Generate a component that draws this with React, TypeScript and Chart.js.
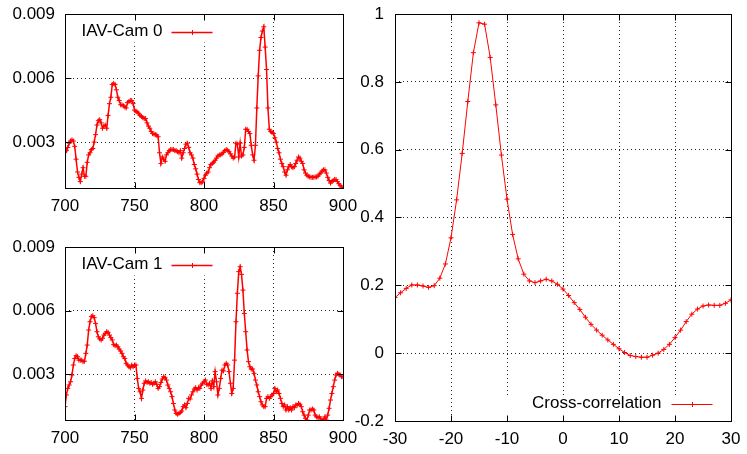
import React, { useEffect, useRef } from "react";
import { Chart, registerables } from "chart.js";

Chart.register(...registerables);

const FONT_FAMILY = "'Liberation Sans', Arial, sans-serif";
Chart.defaults.font.family = FONT_FAMILY;
Chart.defaults.font.size = 17;
Chart.defaults.color = "#000";

// ---------------- data ----------------
const CAM_START = 700; // first sample index of the IAV-Cam series (step 1)

const CAM0 = [
  0.00255, 0.0026, 0.00275, 0.00295, 0.00305, 0.0031, 0.00305, 0.0028, 0.0022, 0.0016,
  0.00135, 0.00115, 0.0015, 0.0018, 0.0014, 0.0014, 0.00205, 0.0024, 0.0025, 0.00265,
  0.0027, 0.003, 0.00335, 0.0038, 0.004, 0.00405, 0.0039, 0.00365, 0.00375, 0.0038,
  0.00365, 0.00425, 0.0048, 0.0051, 0.0057, 0.00575, 0.0057, 0.00545, 0.0051, 0.00495,
  0.00475, 0.00475, 0.0047, 0.00465, 0.0046, 0.00485, 0.0049, 0.00495, 0.00495, 0.0048,
  0.0045, 0.00445, 0.0044, 0.00435, 0.00425, 0.0042, 0.00415, 0.0041, 0.0041, 0.0039,
  0.00375, 0.00365, 0.0035, 0.0034, 0.00338, 0.00335, 0.00333, 0.00325, 0.0025, 0.002,
  0.0023, 0.0022, 0.0021, 0.0024, 0.0025, 0.0026, 0.00265, 0.00265, 0.00265, 0.0026,
  0.0026, 0.00255, 0.0025, 0.0026, 0.00225, 0.0025, 0.0027, 0.0029, 0.00295, 0.00275,
  0.0025, 0.0024, 0.00225, 0.00195, 0.00175, 0.0015, 0.00125, 0.0011, 0.0011, 0.00114,
  0.0013, 0.00145, 0.00155, 0.0016, 0.0018, 0.00195, 0.002, 0.00206, 0.00215, 0.00225,
  0.00235, 0.0024, 0.0024, 0.00245, 0.00252, 0.0026, 0.00265, 0.00262, 0.00255, 0.00245,
  0.00235, 0.00225, 0.0023, 0.00295, 0.0029, 0.0023, 0.00295, 0.00235, 0.0024, 0.00275,
  0.0036, 0.0036, 0.0035, 0.0034, 0.00285, 0.0024, 0.00215, 0.00285, 0.0046, 0.0061,
  0.0073, 0.0079, 0.0082, 0.0084, 0.00745, 0.0064, 0.0046, 0.0036, 0.0035, 0.00345,
  0.0034, 0.0032, 0.003, 0.0027, 0.0025, 0.0022, 0.002, 0.00185, 0.0016, 0.00145,
  0.0017, 0.00185, 0.00195, 0.00185, 0.0018, 0.00185, 0.002, 0.00215, 0.0023, 0.00225,
  0.0021, 0.002, 0.0017, 0.00155, 0.00145, 0.0014, 0.00137, 0.00135, 0.00135, 0.00135,
  0.00137, 0.00137, 0.0014, 0.0015, 0.00155, 0.00165, 0.0017, 0.0017, 0.00155, 0.00135,
  0.0012, 0.00108, 0.00115, 0.0012, 0.00125, 0.00125, 0.00115, 0.00105, 0.00096, 0.0009,
  0.0008,
];

const CAM1 = [
  0.00148, 0.00203, 0.00234, 0.0025, 0.00265, 0.00297, 0.00344, 0.00375, 0.00388, 0.00383,
  0.00367, 0.00367, 0.00367, 0.0036, 0.00362, 0.00399, 0.00438, 0.00509, 0.00548, 0.00572,
  0.00576, 0.00567, 0.0054, 0.00501, 0.00477, 0.00467, 0.00462, 0.0047, 0.00485, 0.00493,
  0.00501, 0.00498, 0.00485, 0.00473, 0.00462, 0.00441, 0.00435, 0.00438, 0.0043, 0.00419,
  0.0041, 0.00399, 0.00383, 0.00375, 0.00352, 0.00344, 0.00336, 0.00331, 0.00344, 0.00336,
  0.00344, 0.00344, 0.00281, 0.00234, 0.00218, 0.00187, 0.00226, 0.00258, 0.00269, 0.00262,
  0.00265, 0.00258, 0.00262, 0.00253, 0.00258, 0.00265, 0.00253, 0.00234, 0.00242, 0.00262,
  0.00278, 0.00289, 0.00284, 0.00273, 0.0025, 0.00234, 0.00218, 0.00195, 0.00163, 0.00132,
  0.00116, 0.00112, 0.00116, 0.00121, 0.00127, 0.00148, 0.00156, 0.00143, 0.00163, 0.00187,
  0.00184, 0.00203, 0.00218, 0.00231, 0.00237, 0.00226, 0.00237, 0.00234, 0.0025, 0.00258,
  0.00265, 0.00273, 0.00253, 0.0025, 0.00258, 0.00234, 0.00269, 0.00242, 0.00313, 0.00265,
  0.00203, 0.00234, 0.00281, 0.0032, 0.00316, 0.00344, 0.00352, 0.00344, 0.00313, 0.00258,
  0.0021, 0.00234, 0.00367, 0.00548, 0.00682, 0.00784, 0.00807, 0.00771, 0.00697, 0.00587,
  0.00501, 0.00415, 0.0036, 0.00336, 0.00325, 0.00325, 0.00305, 0.00273, 0.0025, 0.00218,
  0.00195, 0.00171, 0.00156, 0.00148, 0.00148, 0.00187, 0.00195, 0.00187, 0.00195, 0.00203,
  0.0021, 0.00234, 0.00218, 0.00226, 0.0021, 0.00187, 0.00163, 0.00148, 0.00156, 0.00132,
  0.00148, 0.00132, 0.00143, 0.00132, 0.00148, 0.00143, 0.00156, 0.00154, 0.00163, 0.00159,
  0.00148, 0.00124, 0.00108, 0.00093, 0.00085, 0.00108, 0.00132, 0.00132, 0.00137, 0.00132,
  0.00108, 0.001, 0.00096, 0.001, 0.0009, 0.00085, 0.00085, 0.001, 0.00085, 0.00108,
  0.0014, 0.00179, 0.0021, 0.00242, 0.00273, 0.00297, 0.00305, 0.003, 0.00297, 0.00289,
  0.00289,
];

const LAG_START = -30; // first lag of the cross-correlation (step 1)

const XCORR = [
  0.164, 0.178, 0.191, 0.201, 0.201, 0.198, 0.194, 0.199, 0.221, 0.263,
  0.34, 0.452, 0.589, 0.742, 0.886, 0.974, 0.97, 0.872, 0.732, 0.584,
  0.454, 0.35, 0.278, 0.233, 0.213, 0.208, 0.213, 0.218, 0.213, 0.203,
  0.189, 0.17, 0.149, 0.129, 0.106, 0.085, 0.068, 0.053, 0.039, 0.026,
  0.013, 0.002, -0.007, -0.01, -0.012, -0.012, -0.006, 0.0, 0.011, 0.026,
  0.046, 0.068, 0.093, 0.115, 0.13, 0.139, 0.142, 0.141, 0.141, 0.147,
  0.157,
];

const CAM_X_TICKS = [700, 750, 800, 850, 900];
const CAM_Y_TICKS = [0.003, 0.006, 0.009];
const CAM_Y_MIN = 0.00085;
const XC_X_TICKS = [-30, -20, -10, 0, 10, 20, 30];
const XC_Y_TICKS = [-0.2, 0, 0.2, 0.4, 0.6, 0.8, 1];

const LABEL_CAM0 = "IAV-Cam 0";
const LABEL_CAM1 = "IAV-Cam 1";
const LABEL_XCORR = "Cross-correlation";

// ---------------- gnuplot-like frame, ticks and key ----------------
const framePlugin = {
  id: "gnuframe",
  afterDraw(chart: any, _args: any, opts: any) {
    const ctx = chart.ctx as CanvasRenderingContext2D;
    const ca = chart.chartArea;
    const L = Math.round(ca.left) + 0.5;
    const R = Math.round(ca.right) + 0.5;
    const T = Math.round(ca.top) + 0.5;
    const B = Math.round(ca.bottom) + 0.5;
    const ds = chart.data.datasets[0];
    ctx.save();

    // key geometry
    let box: number[];
    let textRight: number, textY: number, sx0: number, sx1: number;
    if (opts.corner === "tl") {
      box = [L, T, 153, 28];
      textRight = L + 97;
      textY = T + 17;
      sx0 = L + 106;
      sx1 = L + 147;
    } else {
      box = [R - 241, B - 26, 241, 26];
      textRight = R - 70;
      textY = B - 18;
      sx0 = R - 60;
      sx1 = R - 19;
    }
    ctx.fillStyle = "#fff";
    ctx.fillRect(box[0], box[1], box[2], box[3]);

    // inward ticks on all sides
    ctx.strokeStyle = "#000";
    ctx.lineWidth = 1;
    ctx.setLineDash([]);
    const tl = 6;
    const xs = chart.scales.x;
    const ys = chart.scales.y;
    ctx.beginPath();
    xs.ticks.forEach((t: any) => {
      const px = Math.round(xs.getPixelForValue(t.value)) + 0.5;
      ctx.moveTo(px, B);
      ctx.lineTo(px, B - tl);
      ctx.moveTo(px, T);
      ctx.lineTo(px, T + tl);
    });
    ys.ticks.forEach((t: any) => {
      const py = Math.round(ys.getPixelForValue(t.value)) + 0.5;
      ctx.moveTo(L, py);
      ctx.lineTo(L + tl, py);
      ctx.moveTo(R, py);
      ctx.lineTo(R - tl, py);
    });
    ctx.stroke();
    ctx.strokeRect(L, T, R - L, B - T);

    // key text
    ctx.fillStyle = "#000";
    ctx.font = `17px ${FONT_FAMILY}`;
    ctx.textAlign = "right";
    ctx.textBaseline = "middle";
    ctx.fillText(ds.label, textRight, textY);

    // key sample
    const sy = Math.round(textY) + 0.5;
    ctx.strokeStyle = ds.borderColor;
    ctx.lineWidth = ds.borderWidth;
    ctx.beginPath();
    ctx.moveTo(sx0, sy);
    ctx.lineTo(sx1, sy);
    ctx.stroke();
    const mx = Math.round((sx0 + sx1) / 2);
    const r = ds.pointRadius;
    ctx.lineWidth = 1;
    ctx.beginPath();
    ctx.moveTo(mx - r, sy);
    ctx.lineTo(mx + r, sy);
    ctx.moveTo(mx + 0.5, sy - r);
    ctx.lineTo(mx + 0.5, sy + r);
    ctx.stroke();
    ctx.restore();
  },
};

function buildConfig(p: {
  label: string;
  values: number[];
  start: number;
  xMin: number;
  xMax: number;
  xTicks: number[];
  yMin: number;
  yMax: number;
  yTicks: number[];
  yFmt: (v: number) => string;
  yWidth: number;
  xHeight: number;
  padding: any;
  lineWidth: number;
  corner: string;
  yPad: number;
}): any {
  const points = p.values.map((v, i) => ({ x: p.start + i, y: v }));
  return {
    type: "line",
    data: {
      datasets: [
        {
          label: p.label,
          data: points,
          borderColor: "#ff0000",
          backgroundColor: "#ff0000",
          borderWidth: p.lineWidth,
          pointStyle: "cross",
          pointRadius: 2.5,
          pointBorderWidth: 1,
          pointBorderColor: "#ff0000",
          pointHoverRadius: 2.5,
          tension: 0,
          fill: false,
        },
      ],
    },
    options: {
      animation: false,
      responsive: false,
      devicePixelRatio: 1,
      events: [],
      layout: { padding: p.padding },
      plugins: {
        legend: { display: false },
        tooltip: { enabled: false },
        title: { display: false },
        gnuframe: { corner: p.corner },
      },
      scales: {
        x: {
          type: "linear",
          min: p.xMin,
          max: p.xMax,
          afterBuildTicks: (s: any) => {
            s.ticks = p.xTicks.map((v) => ({ value: v }));
          },
          afterFit: (s: any) => {
            s.height = p.xHeight;
            s.paddingLeft = 0;
            s.paddingRight = 0;
            s.paddingTop = 0;
            s.paddingBottom = 0;
          },
          grid: { color: "rgba(0,0,0,0.85)", lineWidth: 1, drawTicks: false },
          border: { display: false, dash: [1, 3] },
          ticks: {
            padding: 8,
            color: "#000",
            maxRotation: 0,
            autoSkip: false,
            callback: (v: any) => String(v),
          },
        },
        y: {
          type: "linear",
          min: p.yMin,
          max: p.yMax,
          afterBuildTicks: (s: any) => {
            s.ticks = p.yTicks.map((v) => ({ value: v }));
          },
          afterFit: (s: any) => {
            s.width = p.yWidth;
            s.paddingLeft = 0;
            s.paddingRight = 0;
            s.paddingTop = 0;
            s.paddingBottom = 0;
          },
          grid: { color: "rgba(0,0,0,0.85)", lineWidth: 1, drawTicks: false },
          border: { display: false, dash: [1, 3] },
          ticks: {
            padding: p.yPad,
            color: "#000",
            autoSkip: false,
            callback: (v: any) => p.yFmt(Number(v)),
          },
        },
      },
    },
    plugins: [framePlugin],
  };
}

function Panel(props: { left: number; top: number; width: number; height: number; config: any }) {
  const ref = useRef<HTMLCanvasElement | null>(null);
  useEffect(() => {
    if (!ref.current) return;
    const chart = new Chart(ref.current, props.config);
    return () => chart.destroy();
  }, []);
  return (
    <canvas
      ref={ref}
      width={props.width}
      height={props.height}
      style={{
        position: "absolute",
        left: props.left,
        top: props.top,
        width: props.width,
        height: props.height,
      }}
    />
  );
}

const fmtCam = (v: number) => v.toFixed(3);
const fmtXc = (v: number) => String(Math.round(v * 10) / 10);

export default function App() {
  const cfg0 = buildConfig({
    label: LABEL_CAM0,
    values: CAM0,
    start: CAM_START,
    xMin: 700,
    xMax: 900,
    xTicks: CAM_X_TICKS,
    yMin: CAM_Y_MIN,
    yMax: 0.009,
    yTicks: CAM_Y_TICKS,
    yFmt: fmtCam,
    yWidth: 65,
    xHeight: 37,
    padding: { left: 0, top: 14, right: 17, bottom: 0 },
    lineWidth: 1.5,
    corner: "tl",
    yPad: 10,
  });
  const cfg1 = buildConfig({
    label: LABEL_CAM1,
    values: CAM1,
    start: CAM_START,
    xMin: 700,
    xMax: 900,
    xTicks: CAM_X_TICKS,
    yMin: CAM_Y_MIN,
    yMax: 0.009,
    yTicks: CAM_Y_TICKS,
    yFmt: fmtCam,
    yWidth: 65,
    xHeight: 34,
    padding: { left: 0, top: 18, right: 17, bottom: 0 },
    lineWidth: 1.5,
    corner: "tl",
    yPad: 10,
  });
  const cfg2 = buildConfig({
    label: LABEL_XCORR,
    values: XCORR,
    start: LAG_START,
    xMin: -30,
    xMax: 30,
    xTicks: XC_X_TICKS,
    yMin: -0.2,
    yMax: 1,
    yTicks: XC_Y_TICKS,
    yFmt: fmtXc,
    yWidth: 45,
    xHeight: 33,
    padding: { left: 0, top: 14, right: 16, bottom: 0 },
    lineWidth: 1,
    corner: "br",
    yPad: 11,
  });
  return (
    <div
      style={{
        position: "fixed",
        left: 0,
        top: 0,
        width: 747,
        height: 454,
        background: "#fff",
        overflow: "hidden",
      }}
    >
      <Panel left={0} top={0} width={360} height={225} config={cfg0} />
      <Panel left={0} top={229} width={360} height={225} config={cfg1} />
      <Panel left={350} top={0} width={397} height={454} config={cfg2} />
    </div>
  );
}
